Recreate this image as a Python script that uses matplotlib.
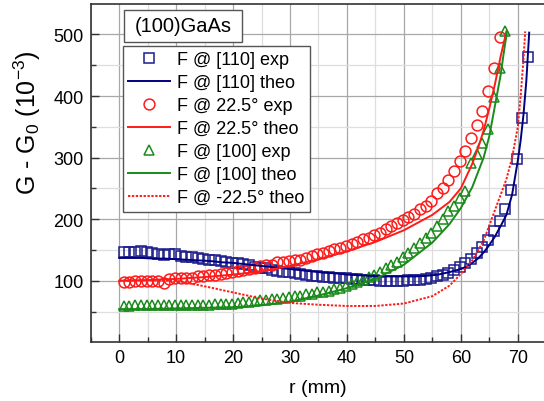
import matplotlib
matplotlib.use("Agg")
import matplotlib.pyplot as plt
from matplotlib.ticker import MultipleLocator, FixedLocator
from matplotlib.patches import Rectangle

plt.rcParams['font.family'] = ['Liberation Sans', 'DejaVu Sans']
plt.rcParams['mathtext.fontset'] = 'custom'
plt.rcParams['mathtext.rm'] = 'Liberation Sans'
plt.rcParams['mathtext.it'] = 'Liberation Sans:italic'

# ---- data ----
r_exp_110 = [0.8 + i for i in range(72)]
g_exp_110 = [146, 147, 146, 149, 147, 145, 143, 142, 143, 143, 140, 139, 138, 137, 136, 133,
             133, 132, 131, 129, 128, 127, 125, 123, 121, 120, 118, 116, 115, 114, 112, 111,
             110, 108, 107, 106, 106, 105, 104, 104, 103, 103, 102, 102, 101, 100, 100, 100,
             100, 100, 101, 101, 102, 103, 105, 107, 110, 113, 117, 122, 128, 136, 145, 154,
             166, 180, 197, 217, 247, 298, 365, 463]

r_exp_225 = [0.8 + i for i in range(67)]
g_exp_225 = [98, 98, 99, 99, 100, 100, 99, 97, 103, 104, 104, 104, 105, 107, 108, 109,
             110, 111, 112, 114, 116, 117, 119, 121, 124, 126, 126, 130, 130, 132, 133, 134,
             137, 140, 143, 145, 148, 151, 153, 156, 160, 163, 167, 170, 175, 178, 184, 189,
             193, 199, 204, 209, 216, 222, 230, 243, 251, 263, 279, 295, 311, 332, 353, 376,
             408, 445, 496]

r_exp_100 = [0.8 + i for i in range(68)]
g_exp_100 = [59, 59, 60, 60, 60, 60, 60, 60, 60, 60, 60, 60, 60, 61, 61, 61,
             62, 62, 63, 63, 64, 65, 66, 67, 68, 69, 70, 71, 72, 73, 75, 76,
             78, 79, 81, 82, 84, 86, 88, 91, 94, 98, 102, 106, 110, 115, 120, 125,
             131, 138, 145, 153, 161, 169, 178, 189, 201, 213, 222, 234, 246, 292, 306, 323,
             346, 398, 445, 505]

r_th_110 = [0, 2, 4, 6, 8, 10, 12, 14, 16, 18, 20, 22, 24, 26, 28, 30, 32, 34, 36, 38, 40,
            42, 44, 46, 48, 50, 52, 54, 56, 58, 60, 61, 62, 63, 64, 65, 66, 67, 68, 69, 70,
            70.5, 71, 71.5, 72]
g_th_110 = [137, 137, 137, 136, 136, 135, 134, 133, 132, 130, 129, 127, 125, 123, 121, 119,
            117, 115, 113, 112, 110, 109, 108, 107, 107, 107, 107, 108, 110, 114, 119, 123,
            129, 136, 146, 158, 172, 189, 207, 240, 295, 328, 370, 425, 503]

r_th_225 = [0, 5, 10, 15, 20, 25, 30, 35, 40, 45, 50, 55, 58, 60, 62, 63, 64, 65, 66, 67, 67.5, 68]
g_th_225 = [100, 101, 103, 106, 110, 115, 124, 135, 148, 163, 182, 207, 228, 250, 290, 315,
            344, 380, 420, 465, 485, 505]

r_th_100 = [0, 5, 10, 15, 20, 25, 30, 35, 40, 45, 50, 55, 58, 60, 62, 64, 65, 66, 67, 67.5, 68.1]
g_th_100 = [54, 54, 55, 56, 57, 60, 66, 76, 88, 103, 126, 162, 192, 218, 252, 300, 335, 385,
            435, 468, 505]

r_th_m225 = [0, 5, 10, 15, 20, 25, 30, 35, 40, 45, 50, 55, 58, 60, 62, 64, 65, 66, 67, 68,
             69, 70, 70.5, 71, 71.3]
g_th_m225 = [100, 101, 100, 91, 81, 71, 64, 61, 59, 59, 63, 75, 92, 111, 133, 165, 190, 215,
             240, 265, 300, 350, 400, 460, 505]

x_ticks = [0, 10, 20, 30, 40, 50, 60, 70]
y_ticks = [100, 200, 300, 400, 500]

NAVY = '#1c1c8c'
RED = '#ff1a1a'
GREEN = '#1a8a1a'

W, H = 544, 402
fig = plt.figure(figsize=(W / 100, H / 100), dpi=100)
AX_L, AX_R, AX_T, AX_B = 90.7, 544, 4.7, 343.3
ax = fig.add_axes([AX_L / W, 1 - AX_B / H, (AX_R - AX_L) / W, (AX_B - AX_T) / H])


def ax_xy(px, py):
    return (px - AX_L) / (AX_R - AX_L), 1 - (py - AX_T) / (AX_B - AX_T)


ms = 7.3
ax.plot(r_exp_110, g_exp_110, ls='none', marker='s', ms=ms - 0.3, mfc='none', mec=NAVY, mew=1.1,
        label='F @ [110] exp', zorder=3)
ax.plot(r_th_110, g_th_110, color='#000080', lw=1.4, label='F @ [110] theo', zorder=4)
ax.plot(r_exp_225, g_exp_225, ls='none', marker='o', ms=ms + 0.5, mfc='none', mec=RED, mew=1.1,
        label='F @ 22.5° exp', zorder=3)
ax.plot(r_th_225, g_th_225, color=RED, lw=1.4, label='F @ 22.5° theo', zorder=4)
ax.plot(r_exp_100, g_exp_100, ls='none', marker='^', ms=ms + 0.5, mfc='none', mec=GREEN, mew=1.1,
        label='F @ [100] exp', zorder=3)
ax.plot(r_th_100, g_th_100, color=GREEN, lw=1.4, label='F @ [100] theo', zorder=4)
ax.plot(r_th_m225, g_th_m225, color=RED, lw=1.4, ls=(0, (1.2, 0.8)),
        label='F @ -22.5° theo', zorder=4)

ax.set_xlim(-5, 74.6)
ax.set_ylim(0, 550)
ax.xaxis.set_major_locator(FixedLocator(x_ticks))
ax.xaxis.set_minor_locator(MultipleLocator(5))
ax.yaxis.set_major_locator(FixedLocator(y_ticks))
ax.yaxis.set_minor_locator(FixedLocator([50, 150, 250, 350, 450]))

ax.grid(True, which='major', color='#a8a8a8', lw=0.9, zorder=0)
ax.grid(True, which='minor', color='#dedede', lw=0.9, zorder=0)
ax.set_axisbelow(True)

ax.tick_params(which='both', direction='in', top=False, right=False, labelsize=13,
               color='#333333', width=1.0)
ax.tick_params(which='major', length=6, pad=5)
ax.tick_params(which='minor', length=3.5)
for s in ['left', 'bottom', 'top']:
    ax.spines[s].set_color('#333333')
    ax.spines[s].set_linewidth(1.2)
ax.spines['right'].set_visible(False)

ax.set_xlabel('r (mm)', fontsize=14, labelpad=9)
fig.text(27 / W, 1 - 123 / H, 'G - G$_0$ (10$^{-3}$)', fontsize=18, rotation=90,
         ha='center', va='center')

leg = ax.legend(loc='upper left', bbox_to_anchor=ax_xy(123, 47),
                borderaxespad=0, fontsize=13, numpoints=1, handlelength=2.3,
                handletextpad=0.4, labelspacing=0.33, borderpad=0.3, fancybox=False,
                edgecolor='#555555', framealpha=1.0)
leg.get_frame().set_linewidth(1.0)

x0, y1 = ax_xy(124, 11)
x1, y0 = ax_xy(242, 43)
ax.add_patch(Rectangle((x0, y0), x1 - x0, y1 - y0, transform=ax.transAxes, fc='white',
                       ec='#555555', lw=1.0, zorder=6))
ax.text((x0 + x1) / 2, (y0 + y1) / 2, '(100)GaAs', transform=ax.transAxes,
        fontsize=14.5, va='center', ha='center', zorder=7)

fig.savefig('out.png', dpi=100)
